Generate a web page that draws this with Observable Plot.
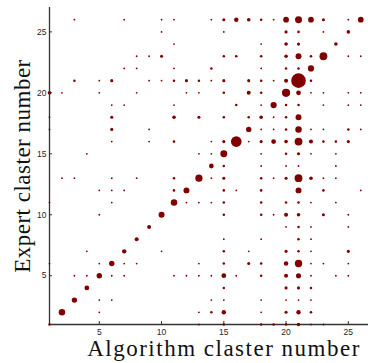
<!DOCTYPE html>
<html><head><meta charset="utf-8">
<script src="https://cdn.jsdelivr.net/npm/d3@7"></script>
<script src="https://cdn.jsdelivr.net/npm/@observablehq/plot@0.6"></script>
<style>body{margin:0;background:#fff}</style>
</head><body><div id="chart"></div>
<script>
const xLabel = "Algorithm claster number";
const yLabel = "Expert claster number";
const xTicks = [5, 10, 15, 20, 25];
const yTicks = [5, 10, 15, 20, 25];
const expertRows = [26,25,24,23,22,21,20,19,18,17,16,15,14,13,12,11,10,9,8,7,6,5,4,3,2,1];
const algoByRow = [
 [3,7,10,11,14,15,16,17,18,19,20,21,22,23,25,26],
 [10,15,20,21,23,25],
 [11,18,20,21,24],
 [8,9,10,15,16,18,20,21,22,23,25,26],
 [7,8,11,14,18,20,21,22],
 [3,5,6,9,10,11,12,13,14,15,17,18,19,20,21,22],
 [1,2,5,8,12,13,15,17,18,20,21,22,23,25,26],
 [6,7,11,16,18,19,20,21,23,25,26],
 [1,6,11,13,15,17,18,19,20,21],
 [1,6,9,17,18,19,20,21,22,23,25,26],
 [6,9,11,14,15,16,17,18,19,20,21,22,23,24,25],
 [4,13,14,15,18,20,21,22,24],
 [14,15,18,20,21,24],
 [2,3,6,8,11,13,14,15,18,19,20,21,22,23,24],
 [5,6,7,11,12,15,16,18,21,23,26],
 [1,6,11,12,13,14,15,18,20,21,22,24],
 [5,10,15,18,19,20,21,23,25],
 [9,20,21,22,25],
 [8,15,18,21,22],
 [4,7,10,15,17,20,21,22,25],
 [1,5,6,7,8,13,15,17,18,20,21,22,23,25],
 [3,4,5,6,7,11,12,13,14,15,16,18,20,21,22,24,25],
 [4,15,20,21,22],
 [3,5,6,14,15,18,20,21,22],
 [2,5,13,14,15,18,20,21,22],
 [1,13,15,18,19,20,21,22,23]
];
const countByRow = [
 [1,1,1,1,1,3,6,4,2,1,10,15,10,3,1,10],
 [1,1,3,2,1,4],
 [1,1,4,3,4],
 [1,1,3,2,2,2,4,11,2,19,1,1],
 [1,1,1,2,1,2,2,12],
 [2,1,3,1,1,2,3,2,1,3,3,2,1,5,66,2],
 [4,1,1,1,1,1,2,5,2,21,7,1,1,1,1],
 [1,1,1,2,1,12,2,2,1,1,1],
 [1,3,4,3,2,2,4,1,2,11],
 [1,3,1,9,1,1,2,13,1,1,2,1],
 [1,1,2,1,3,35,1,3,7,4,19,5,2,2,3],
 [1,1,1,15,1,2,3,1,1],
 [7,2,1,1,1,1],
 [1,1,1,1,2,16,1,3,2,1,3,19,4,1,1],
 [1,1,1,2,11,2,1,2,11,2,1],
 [1,1,13,1,1,1,2,2,2,2,1,1],
 [1,11,2,2,1,5,4,3,1],
 [5,1,2,1,1],
 [5,1,1,2,1],
 [1,6,1,2,1,3,2,1,3],
 [1,1,9,1,1,1,2,3,2,6,17,1,1,1],
 [1,1,9,1,1,1,1,1,1,7,1,2,5,8,1,1,1],
 [7,2,3,3,2],
 [9,1,1,1,1,1,1,1,1],
 [13,1,1,2,6,1,3,6,2],
 [2,1,2,2,2,2,4,1,1]
];

const data = expertRows.flatMap((e, i) =>
  algoByRow[i].map((a, j) => ({algo: a, expert: e, count: countByRow[i][j]})));

const chart = Plot.plot({
  width: 368, height: 363,
  marginLeft: 49, marginRight: 0, marginTop: 7, marginBottom: 39,
  style: {fontFamily: "'Liberation Sans', Arial, sans-serif", fontSize: "8.5px", color: "#262626", background: "#fff", overflow: "visible"},
  x: {domain: [1, 26.62]},
  y: {domain: [1, 27]},
  r: {type: "sqrt", domain: [0, 66], range: [0, 7.3]},
  marks: [
    Plot.ruleY([1], {stroke: "#333", strokeWidth: 1.3}),
    Plot.ruleX([1], {stroke: "#333", strokeWidth: 1.3}),
    Plot.axisX(xTicks, {tickSize: -3, tickPadding: 7, label: null, stroke: "#333"}),
    Plot.axisY(yTicks, {tickSize: -3, tickPadding: 6, label: null, stroke: "#333"}),
    Plot.dot(data, {x: "algo", y: "expert", r: "count", fill: "#800000", stroke: null}),
    Plot.text([xLabel], {frameAnchor: "bottom", dy: 31, lineAnchor: "bottom", textAnchor: "middle", dx: 15,
      fontFamily: "'Liberation Serif', serif", fontSize: 23, fill: "#111"}),
    Plot.text([yLabel], {frameAnchor: "left", dx: -27, rotate: -90, lineAnchor: "middle", textAnchor: "middle",
      fontFamily: "'Liberation Serif', serif", fontSize: 23, fill: "#111"})
  ]
});
d3.select(chart).selectAll("text").each(function() {
  const t = this.textContent;
  if (t === xLabel) this.setAttribute("letter-spacing", "1.5");
  if (t === yLabel) this.setAttribute("letter-spacing", "0.5");
});
document.getElementById("chart").appendChild(chart);
</script>
</body></html>
